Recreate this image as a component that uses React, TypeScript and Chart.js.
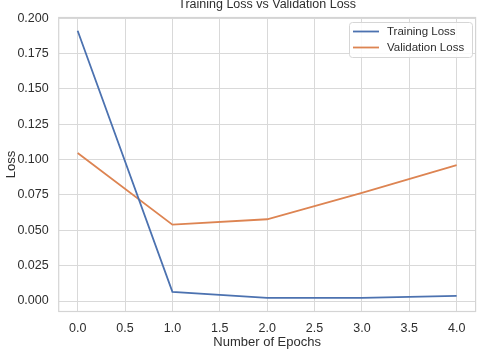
import React, { useEffect, useRef } from "react";
import { Chart, registerables } from "chart.js";

Chart.register(...registerables);

const epochs = [0, 1, 2, 3, 4];
const trainingLoss = [0.191, 0.0065, 0.0022, 0.0023, 0.0037];
const validationLoss = [0.1046, 0.054, 0.0578, 0.0765, 0.0961];
const xTicks = [0, 0.5, 1, 1.5, 2, 2.5, 3, 3.5, 4];
const yTicks = [0, 0.025, 0.05, 0.075, 0.1, 0.125, 0.15, 0.175, 0.2];
const seriesLabels = ["Training Loss", "Validation Loss"];
const seriesColors = ["#4c72b0", "#dd8452"];
const chartTitle = "Training Loss vs Validation Loss";
const xTitle = "Number of Epochs";
const yTitle = "Loss";

const FONT = '"Liberation Sans", Arial, sans-serif';
const TEXT = "#2e2e2e";
const GRID = "#d9d9d9";

const framePlugin = {
  id: "frame",
  beforeDatasetsDraw(chart: any) {
    const { ctx, chartArea: a } = chart;
    ctx.save();
    ctx.strokeStyle = "#d4d4d4";
    ctx.lineWidth = 1.2;
    ctx.strokeRect(a.left, a.top, a.right - a.left, a.bottom - a.top);
    ctx.restore();
  },
  afterDraw(chart: any) {
    const { ctx, chartArea: a } = chart;
    ctx.save();
    // title
    ctx.fillStyle = TEXT;
    ctx.font = `12.5px ${FONT}`;
    ctx.textAlign = "center";
    ctx.textBaseline = "alphabetic";
    ctx.fillText(chartTitle, (a.left + a.right) / 2, 8);
    // legend
    const bx = 349, by = 22, bw = 123, bh = 35;
    ctx.fillStyle = "rgba(255,255,255,0.85)";
    ctx.strokeStyle = "#d6d6d6";
    ctx.lineWidth = 1;
    ctx.beginPath();
    (ctx as any).roundRect(bx + 0.5, by + 0.5, bw, bh, 3);
    ctx.fill();
    ctx.stroke();
    ctx.font = `11.5px ${FONT}`;
    ctx.textAlign = "left";
    ctx.textBaseline = "middle";
    seriesLabels.forEach((lbl, i) => {
      const y = by + 9.5 + i * 16;
      ctx.strokeStyle = seriesColors[i];
      ctx.lineWidth = 1.8;
      ctx.beginPath();
      ctx.moveTo(353, y);
      ctx.lineTo(379, y);
      ctx.stroke();
      ctx.fillStyle = TEXT;
      ctx.fillText(lbl, 387, y + 0.5);
    });
    ctx.restore();
  },
};

export default function App() {
  const ref = useRef<HTMLCanvasElement | null>(null);
  useEffect(() => {
    if (!ref.current) return;
    const chart = new Chart(ref.current, {
      type: "line",
      data: {
        datasets: [
          {
            label: seriesLabels[0],
            data: epochs.map((e, i) => ({ x: e, y: trainingLoss[i] })),
            borderColor: seriesColors[0],
            backgroundColor: seriesColors[0],
            borderWidth: 1.8,
            pointRadius: 0,
            tension: 0,
          },
          {
            label: seriesLabels[1],
            data: epochs.map((e, i) => ({ x: e, y: validationLoss[i] })),
            borderColor: seriesColors[1],
            backgroundColor: seriesColors[1],
            borderWidth: 1.8,
            pointRadius: 0,
            tension: 0,
          },
        ],
      },
      options: {
        animation: false,
        responsive: false,
        devicePixelRatio: 1,
        layout: { padding: { top: 15.4, right: 5.4, left: 0, bottom: 0 } },
        plugins: {
          legend: { display: false },
          title: { display: false },
          tooltip: { enabled: false },
        },
        scales: {
          x: {
            type: "linear",
            min: -0.2,
            max: 4.2,
            afterBuildTicks: (s: any) => {
              s.ticks = xTicks.map((v) => ({ value: v }));
            },
            afterFit: (s: any) => {
              s.height = 40.5;
            },
            grid: { color: GRID, lineWidth: 1, drawTicks: false },
            border: { display: false },
            ticks: {
              padding: 10,
              color: TEXT,
              font: { family: FONT, size: 12.5 },
              maxRotation: 0,
              autoSkip: false,
              callback: (v: any) => Number(v).toFixed(1),
            },
            title: {
              display: true,
              text: xTitle,
              color: TEXT,
              font: { family: FONT, size: 13 },
              padding: { top: 0, bottom: 2 },
            },
          },
          y: {
            type: "linear",
            min: -0.0074,
            max: 0.2004,
            afterBuildTicks: (s: any) => {
              s.ticks = yTicks.map((v) => ({ value: v }));
            },
            afterFit: (s: any) => {
              s.width = 58.7;
            },
            grid: { color: GRID, lineWidth: 1, drawTicks: false },
            border: { display: false },
            ticks: {
              padding: 10,
              color: TEXT,
              font: { family: FONT, size: 12.5 },
              autoSkip: false,
              callback: (v: any) => Number(v).toFixed(3),
            },
            title: {
              display: true,
              text: yTitle,
              color: TEXT,
              font: { family: FONT, size: 13 },
              padding: { top: 4, bottom: 0 },
            },
          },
        },
      },
      plugins: [framePlugin],
    });
    return () => chart.destroy();
  }, []);
  return (
    <div style={{ position: "absolute", left: 0, top: 0, width: 481, height: 352, background: "#fff" }}>
      <canvas ref={ref} width={481} height={352} style={{ display: "block" }} />
    </div>
  );
}
